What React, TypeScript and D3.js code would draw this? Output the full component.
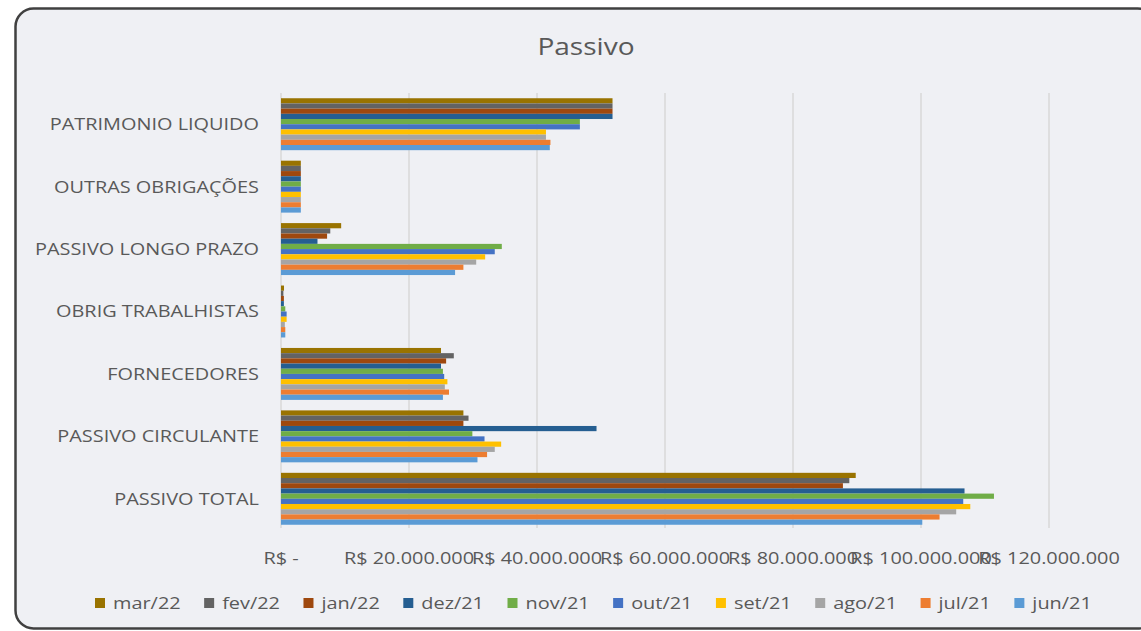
import React, { useEffect, useRef } from 'react';
import * as d3 from 'd3';

// Categories, top to bottom as drawn
const categories = [
  'PATRIMONIO LIQUIDO',
  'OUTRAS OBRIGAÇÕES',
  'PASSIVO LONGO PRAZO',
  'OBRIG TRABALHISTAS',
  'FORNECEDORES',
  'PASSIVO CIRCULANTE',
  'PASSIVO TOTAL',
];

// Series, in legend order (also top-to-bottom inside each group)
const seriesNames = ['mar/22', 'fev/22', 'jan/22', 'dez/21', 'nov/21', 'out/21', 'set/21', 'ago/21', 'jul/21', 'jun/21'];
const seriesColors = ['#997300', '#636363', '#9e480e', '#255e91', '#70ad47', '#4472c4', '#ffc000', '#a5a5a5', '#ed7d31', '#5b9bd5'];

// values in R$ millions, one array per category, in seriesNames order
const patrimonioLiquido = [51.8, 51.8, 51.8, 51.8, 46.7, 46.7, 41.4, 41.4, 42.1, 42.0];
const outrasObrigacoes = [3.1, 3.1, 3.1, 3.1, 3.1, 3.1, 3.1, 3.1, 3.1, 3.1];
const passivoLongoPrazo = [9.4, 7.7, 7.2, 5.7, 34.5, 33.4, 31.9, 30.5, 28.5, 27.2];
const obrigTrabalhistas = [0.47, 0.37, 0.45, 0.45, 0.67, 0.88, 0.88, 0.6, 0.67, 0.67];
const fornecedores = [25.0, 27.0, 25.8, 25.0, 25.3, 25.5, 26.0, 25.6, 26.25, 25.3];
const passivoCirculante = [28.5, 29.3, 28.5, 49.3, 29.9, 31.8, 34.4, 33.4, 32.2, 30.7];
const passivoTotal = [89.8, 88.8, 87.8, 106.8, 111.4, 106.6, 107.7, 105.5, 102.9, 100.2];

const categoryValues = [
  patrimonioLiquido,
  outrasObrigacoes,
  passivoLongoPrazo,
  obrigTrabalhistas,
  fornecedores,
  passivoCirculante,
  passivoTotal,
];

const xTicks = [0, 20, 40, 60, 80, 100, 120];

const W = 1141;
const H = 631;
const FONT = '"Open Sans", "Noto Sans", sans-serif';
const TEXT = '#595959';
const STRETCH = 1.17; // the source text is rendered a bit wide

const locale = d3.formatLocale({ decimal: ',', thousands: '.', grouping: [3], currency: ['R$ ', ''] });
const fmt = locale.format(',.0f');
const tickLabel = (m: number) => (m === 0 ? 'R$ -' : 'R$ ' + fmt(m * 1e6));

export default function App() {
  const svgRef = useRef<SVGSVGElement>(null);

  useEffect(() => {
    if (!svgRef.current) return;
    const svg = d3.select(svgRef.current);
    svg.selectAll('*').remove();

    // chart frame
    svg.append('rect')
      .attr('x', 15.5).attr('y', 8.5)
      .attr('width', 1140).attr('height', 620)
      .attr('rx', 18).attr('ry', 18)
      .attr('fill', '#eff0f4')
      .attr('stroke', '#404040')
      .attr('stroke-width', 2.5);

    const margin = { top: 93, bottom: 530, left: 281, right: 1049 };

    const x = d3.scaleLinear().domain([0, 120]).range([margin.left, margin.right]);
    const y = d3.scaleBand<string>().domain(categories).range([margin.top, margin.bottom]);
    const pad = y.bandwidth() * 0.084;
    const ySub = d3.scaleBand<string>().domain(seriesNames).range([pad, y.bandwidth() - pad]);

    // title
    svg.append('text')
      .attr('transform', `translate(586,55) scale(${STRETCH},1)`)
      .attr('text-anchor', 'middle')
      .attr('font-family', FONT).attr('font-size', 24)
      .attr('fill', TEXT)
      .text('Passivo');

    // grid
    svg.append('g')
      .selectAll('line')
      .data(xTicks)
      .join('line')
      .attr('x1', d => x(d)).attr('x2', d => x(d))
      .attr('y1', margin.top).attr('y2', margin.bottom - 2)
      .attr('stroke', '#d9d9d9')
      .attr('stroke-width', 1.5);

    // bars
    const groups = svg.append('g')
      .selectAll('g')
      .data(categories)
      .join('g')
      .attr('transform', d => `translate(0,${y(d)})`);

    groups.selectAll('rect')
      .data((_, i) => categoryValues[i].map((v, j) => ({ v, s: seriesNames[j], c: seriesColors[j] })))
      .join('rect')
      .attr('x', x(0))
      .attr('y', d => ySub(d.s)!)
      .attr('width', d => x(d.v) - x(0))
      .attr('height', ySub.bandwidth())
      .attr('fill', d => d.c);

    // category labels
    svg.append('g')
      .selectAll('text')
      .data(categories)
      .join('text')
      .attr('transform', d => `translate(259,${y(d)! + y.bandwidth() / 2}) scale(${STRETCH},1)`)
      .attr('dy', '0.35em')
      .attr('text-anchor', 'end')
      .attr('font-family', FONT).attr('font-size', 17)
      .attr('fill', TEXT)
      .text(d => d);

    // x tick labels
    svg.append('g')
      .selectAll('text')
      .data(xTicks)
      .join('text')
      .attr('transform', d => `translate(${x(d)},564) scale(${STRETCH},1)`)
      .attr('text-anchor', 'middle')
      .attr('font-family', FONT).attr('font-size', 17)
      .attr('fill', TEXT)
      .text(d => tickLabel(d));

    // legend
    const legend = svg.append('g').attr('transform', 'translate(95,0)');
    let lx = 0;
    seriesNames.forEach((name, i) => {
      const item = legend.append('g').attr('transform', `translate(${lx},0)`);
      item.append('rect')
        .attr('x', 0).attr('y', 598)
        .attr('width', 10).attr('height', 10)
        .attr('fill', seriesColors[i]);
      const t = item.append('text')
        .attr('transform', `translate(18,609) scale(${STRETCH},1)`)
        .attr('font-family', FONT).attr('font-size', 17)
        .attr('fill', TEXT)
        .text(name);
      const tw = (t.node() as SVGTextElement).getComputedTextLength() * STRETCH;
      lx += 18 + tw + 23.5;
    });
  }, []);

  return (
    <div style={{ position: 'absolute', left: 0, top: 0, width: W, height: H, background: '#fff' }}>
      <svg ref={svgRef} width={W} height={H} />
    </div>
  );
}
